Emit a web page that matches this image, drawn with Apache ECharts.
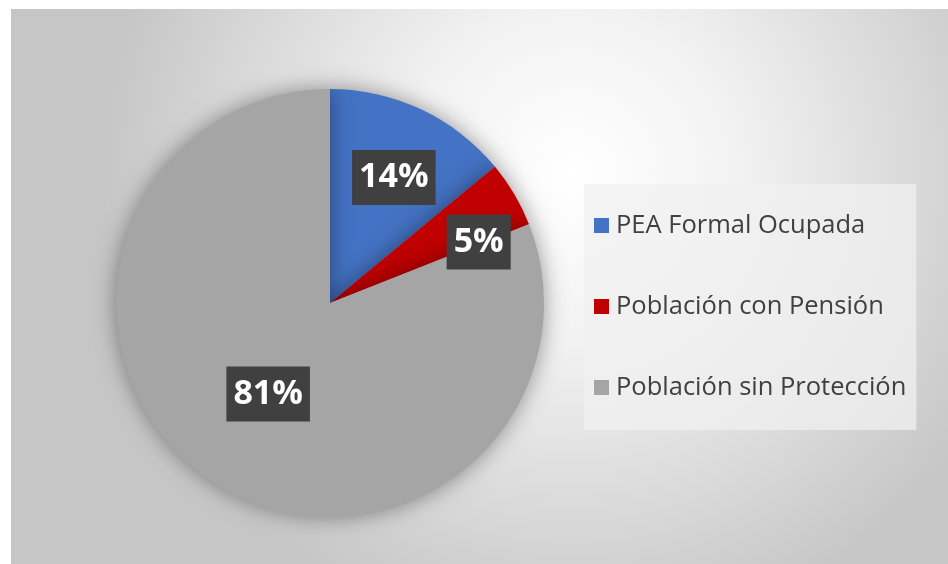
<!DOCTYPE html>
<html><head><meta charset="utf-8">
<script src="https://cdn.jsdelivr.net/npm/echarts@6/dist/echarts.min.js"></script>
<style>html,body{margin:0;padding:0;background:#fff;}#c{width:948px;height:564px;}</style>
</head><body><div id="c"></div>
<script>
const categories = ['PEA Formal Ocupada', 'Población con Pensión', 'Población sin Protección'];
const values = [14, 5, 81];
const colors = ['#4472C4', '#C00000', '#A5A5A5'];
const labelOffsets = [[17, -26], [54, -5], [0, 0]];

const chart = echarts.init(document.getElementById('c'));
chart.setOption({
  animation: false,
  graphic: [{
    type: 'rect', z: -10, silent: true,
    shape: {x: 11, y: 9, width: 937, height: 555},
    style: {
      fill: new echarts.graphic.RadialGradient(0.6, 0.3, 0.85, [
        {offset: 0, color: '#ffffff'},
        {offset: 0.35, color: '#f2f2f2'},
        {offset: 1, color: '#c6c6c6'}
      ])
    }
  }],
  legend: {
    orient: 'vertical',
    left: 584, top: 184,
    padding: [28, 10, 29, 10],
    backgroundColor: 'rgba(240,240,240,0.75)',
    itemWidth: 15, itemHeight: 15,
    itemGap: 54,
    icon: 'rect',
    textStyle: {fontFamily: 'Open Sans', fontSize: 25.5, color: '#404040', lineHeight: 27, padding: [0, 0, 0, 2]},
    data: categories
  },
  series: [{
    type: 'pie',
    center: [330, 303],
    radius: [0, 214],
    startAngle: 90,
    clockwise: true,
    itemStyle: {shadowBlur: 22, shadowColor: 'rgba(0,0,0,0.4)'},
    label: {
      show: true, position: 'inside',
      formatter: '{d}%',
      fontFamily: 'Open Sans', fontWeight: 'bold', fontSize: 34, color: '#ffffff',
      backgroundColor: '#404040', padding: [7, 7, 6, 7], lineHeight: 42
    },
    labelLine: {show: false},
    data: categories.map((name, i) => ({
      name, value: values[i],
      itemStyle: {color: colors[i]},
      label: {offset: labelOffsets[i]}
    }))
  }]
});
</script></body></html>
